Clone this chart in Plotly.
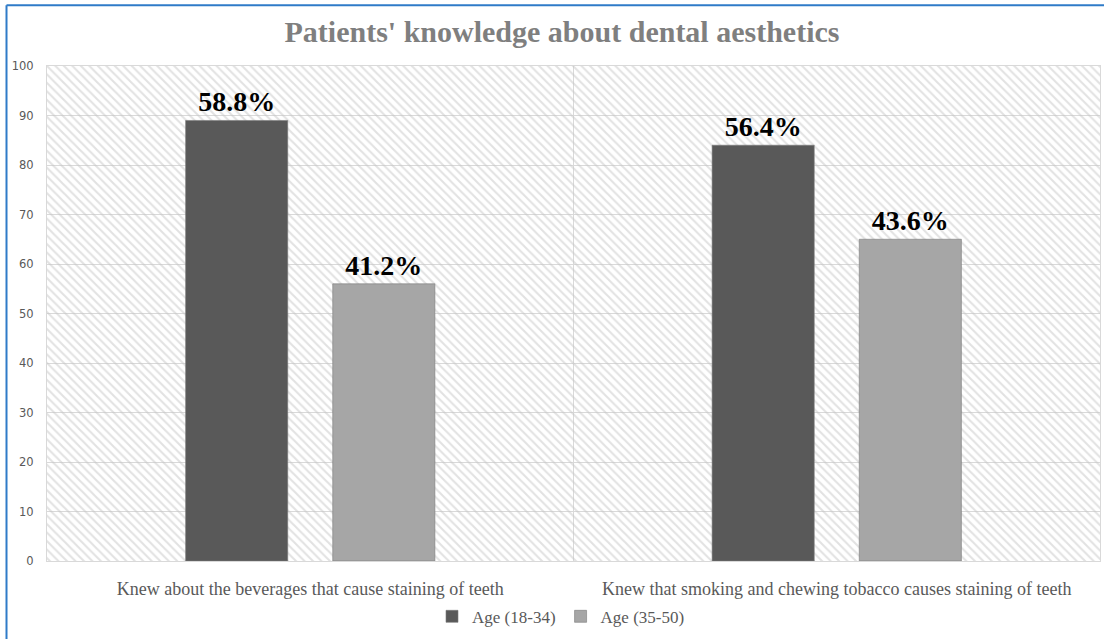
import plotly.graph_objects as go

categories = [
    "Knew about the beverages that cause staining of teeth",
    "Knew that smoking and chewing tobacco causes staining of teeth",
]
series_names = ["Age (18-34)", "Age (35-50)"]
values_18_34 = [89, 84]
values_35_50 = [56, 65]
labels_18_34 = ["58.8%", "56.4%"]
labels_35_50 = ["41.2%", "43.6%"]
y_ticks = [0, 10, 20, 30, 40, 50, 60, 70, 80, 90, 100]

colors = ["#595959", "#a6a6a6"]
serif = "Liberation Serif, Times New Roman, serif"

W, H = 1104, 639
ML, MR, MT, MB = 47, 4, 66, 76
pw, ph = W - ML - MR, H - MT - MB

def px_x(p):
    return (p - ML) / pw

def px_y(p):
    return (H - MB - p) / ph

fig = go.Figure()

# hatched plot-area background (decoration)
fig.add_trace(go.Scatter(
    x=[0, 1, 1, 0, 0], y=[0, 0, 1, 1, 0], xaxis="x", yaxis="y",
    mode="lines", line=dict(width=0), fill="toself",
    fillcolor="rgba(0,0,0,0)",
    fillpattern=dict(shape="\\", fgcolor="#c6c6c6", bgcolor="rgba(0,0,0,0)",
                     size=6, solidity=0.35),
    hoverinfo="skip", showlegend=False,
))

for name, vals, labs, col in [
    (series_names[0], values_18_34, labels_18_34, colors[0]),
    (series_names[1], values_35_50, labels_35_50, colors[1]),
]:
    fig.add_trace(go.Bar(
        x=categories, y=vals, name=name, xaxis="x2", yaxis="y2",
        marker=dict(color=col, line=dict(color="#7a7a7a", width=0.6)),
        text=labs, textposition="outside", cliponaxis=False,
        constraintext="none",
        textfont=dict(family=serif, size=28, color="#000000", weight="bold"),
    ))

fig.update_layout(
    width=W, height=H,
    margin=dict(l=ML, r=MR, t=MT, b=MB),
    paper_bgcolor="white", plot_bgcolor="white",
    title=dict(text="Patients' knowledge about dental aesthetics",
               x=562 / W, xref="container", xanchor="center",
               y=1 - 31 / H, yref="container", yanchor="middle",
               font=dict(family=serif, size=30, color="#7f7f7f", weight="bold")),
    barmode="group", bargap=0.441, bargroupgap=0.306,
    xaxis=dict(visible=False, range=[0, 1], fixedrange=True),
    yaxis=dict(visible=False, range=[0, 1], fixedrange=True),
    xaxis2=dict(overlaying="x", side="bottom", type="category",
                tickson="boundaries", showgrid=True, gridcolor="#d9d9d9",
                gridwidth=1, ticks="", showline=True, linecolor="#d9d9d9",
                mirror=True, ticklabelstandoff=11,
                tickfont=dict(family=serif, size=18, color="#595959")),
    yaxis2=dict(overlaying="y", side="left", range=[0, 100],
                tickvals=y_ticks, showgrid=True, gridcolor="#d9d9d9",
                gridwidth=1, zeroline=False, ticks="", showline=True,
                linecolor="#d9d9d9", mirror=True, ticklabelstandoff=10,
                tickfont=dict(family="DejaVu Sans", size=11.5, color="#595959")),
    legend=dict(orientation="h", x=px_x(561), xanchor="center",
                y=px_y(619), yanchor="middle",
                font=dict(family=serif, size=17, color="#595959"),
                itemwidth=30, tracegroupgap=0),
    shapes=[
        dict(type="line", xref="paper", yref="paper",
             x0=px_x(6.5), x1=px_x(6.5), y0=px_y(5), y1=px_y(700),
             line=dict(color="#2f7bc8", width=2)),
        dict(type="line", xref="paper", yref="paper",
             x0=px_x(6.5), x1=px_x(1200), y0=px_y(5), y1=px_y(5),
             line=dict(color="#2f7bc8", width=2)),
    ],
)

fig.write_html(
    "out.html",
    config={"displayModeBar": False},
    post_script="document.body.style.margin='0';document.body.style.overflow='hidden';",
)
